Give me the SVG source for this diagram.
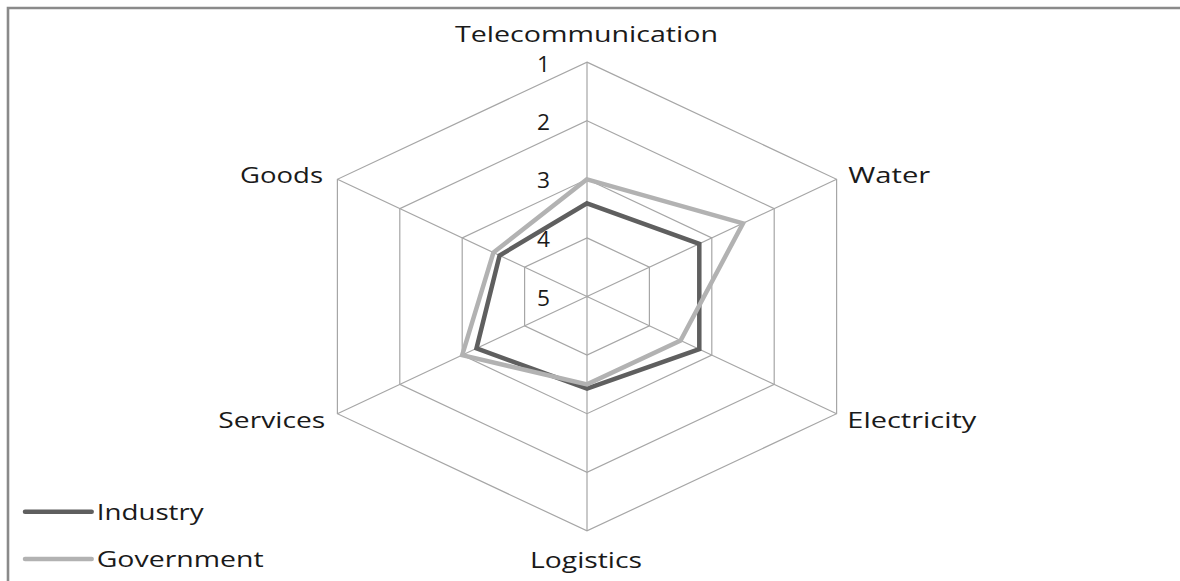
<svg xmlns="http://www.w3.org/2000/svg" width="1180" height="581" viewBox="0 0 1180 581">
<style>
.t{font-family:"Open Sans","Noto Sans","Liberation Sans",sans-serif;font-size:22.5px;fill:#1a1a1a}
.g{fill:none;stroke:#a6a6a6;stroke-width:1.2}
.ind{fill:none;stroke:#5f5f5f;stroke-width:4.5;stroke-linejoin:miter}
.gov{fill:none;stroke:#b2b2b2;stroke-width:4.5;stroke-linejoin:miter}
</style>
<rect x="0" y="0" width="1180" height="581" fill="#ffffff"/>
<g id="frame">
<path d="M8 581 V8 H1180" fill="none" stroke="#8a8a8a" stroke-width="2.6"/>
</g>
<g id="grid">
<polygon class="g" points="587,62.1 836.6,179.3 836.6,413.7 587,530.9 337.4,413.7 337.4,179.3"/>
<polygon class="g" points="587,120.7 774.2,208.6 774.2,384.4 587,472.3 399.8,384.4 399.8,208.6"/>
<polygon class="g" points="587,179.3 711.8,237.9 711.8,355.1 587,413.7 462.2,355.1 462.2,237.9"/>
<polygon class="g" points="587,237.9 649.4,267.2 649.4,325.8 587,355.1 524.6,325.8 524.6,267.2"/>
<path class="g" d="M587 296.5 L587 62.1 M587 296.5 L836.6 179.3 M587 296.5 L836.6 413.7 M587 296.5 L587 530.9 M587 296.5 L337.4 413.7 M587 296.5 L337.4 179.3"/>
</g>
<g id="scale">
<text class="t" x="550" y="71.7" text-anchor="end" textLength="13" lengthAdjust="spacingAndGlyphs">1</text>
<text class="t" x="550" y="130" text-anchor="end" textLength="13" lengthAdjust="spacingAndGlyphs">2</text>
<text class="t" x="550" y="188" text-anchor="end" textLength="13" lengthAdjust="spacingAndGlyphs">3</text>
<text class="t" x="550" y="247" text-anchor="end" textLength="13" lengthAdjust="spacingAndGlyphs">4</text>
<text class="t" x="550" y="306" text-anchor="end" textLength="13" lengthAdjust="spacingAndGlyphs">5</text>
</g>
<g id="series">
<polygon id="industry" class="ind" points="587,203.3 699.3,243.8 699.3,349.2 587,388.5 476.5,348.4 499.6,255.5"/>
<polygon id="government" class="gov" points="587,179.3 743,223.3 680.6,340.5 587,384.4 462.2,355.1 493.4,252.6"/>
</g>
<g id="axis-labels">
<text class="t" x="455" y="41.5" textLength="263" lengthAdjust="spacingAndGlyphs">Telecommunication</text>
<text class="t" x="848.3" y="183.3" textLength="82" lengthAdjust="spacingAndGlyphs">Water</text>
<text class="t" x="847.3" y="428.3" textLength="129" lengthAdjust="spacingAndGlyphs">Electricity</text>
<text class="t" x="530" y="568.3" textLength="112" lengthAdjust="spacingAndGlyphs">Logistics</text>
<text class="t" x="218.3" y="428.3" textLength="107" lengthAdjust="spacingAndGlyphs">Services</text>
<text class="t" x="240" y="183.3" textLength="83" lengthAdjust="spacingAndGlyphs">Goods</text>
</g>
<g id="legend">
<line x1="25" y1="511.7" x2="91.7" y2="511.7" stroke="#5f5f5f" stroke-width="4.5" stroke-linecap="round"/>
<text class="t" x="96.7" y="520" textLength="107" lengthAdjust="spacingAndGlyphs">Industry</text>
<line x1="25" y1="559" x2="91.7" y2="559" stroke="#b2b2b2" stroke-width="4.5" stroke-linecap="round"/>
<text class="t" x="96.7" y="567.3" textLength="167" lengthAdjust="spacingAndGlyphs">Government</text>
</g>
</svg>
